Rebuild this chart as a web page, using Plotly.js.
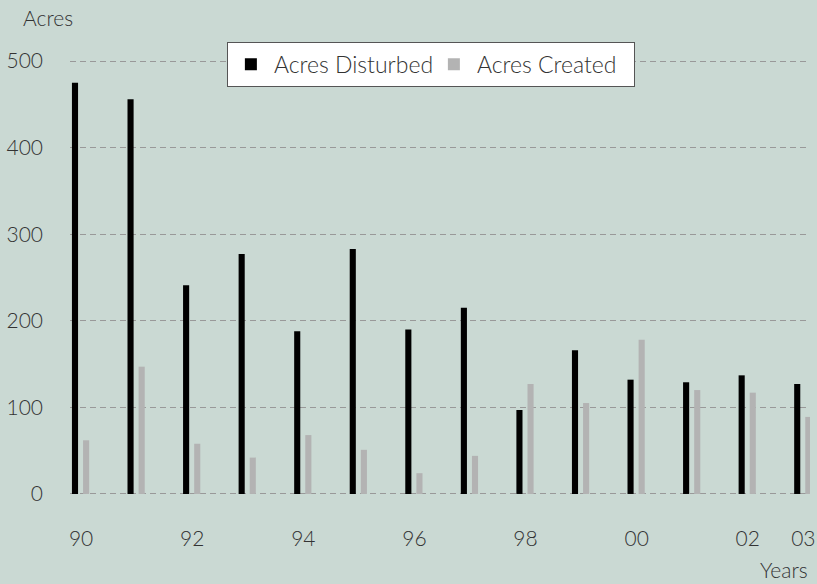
<!DOCTYPE html>
<html>
<head>
<meta charset="utf-8">
<script src="https://cdn.plot.ly/plotly-3.0.1.min.js"></script>
<style>
  html, body { margin: 0; padding: 0; background: #cad9d3; }
  #chart { width: 817px; height: 584px; }
</style>
</head>
<body>
<div id="chart"></div>
<script>
const years = [1990, 1991, 1992, 1993, 1994, 1995, 1996, 1997, 1998, 1999, 2000, 2001, 2002, 2003];
const acresDisturbed = [475, 456, 241, 277, 188, 283, 190, 215, 97, 166, 132, 129, 137, 127];
const acresCreated = [62, 147, 58, 42, 68, 51, 24, 44, 127, 105, 178, 120, 117, 89];
const tickYears = [1990, 1992, 1994, 1996, 1998, 2000, 2002, 2003];
const tickLabels = ["90", "92", "94", "96", "98", "00", "02", "03"];
const yTicks = [0, 100, 200, 300, 400, 500];

const bg = '#cad9d3';
const fontFam = 'Lato, "Open Sans", sans-serif';
const textColor = '#333333';

const data = [
  {
    type: 'bar', name: 'Acres Disturbed', x: years, y: acresDisturbed,
    width: 0.11, offset: -0.165,
    marker: { color: '#000000', line: { width: 0 } }
  },
  {
    type: 'bar', name: 'Acres Created', x: years, y: acresCreated,
    width: 0.11, offset: 0.035,
    marker: { color: '#b3b3b3', line: { width: 0 } }
  }
];

const layout = {
  width: 817, height: 584,
  margin: { l: 70, r: 7, t: 58, b: 87 },
  paper_bgcolor: bg, plot_bgcolor: bg,
  barmode: 'overlay',
  font: { family: fontFam, size: 21, color: textColor, weight: 300 },
  showlegend: true,
  legend: {
    orientation: 'h',
    x: 0.212, xanchor: 'left', y: 1.037, yanchor: 'top',
    bgcolor: '#ffffff', bordercolor: '#555555', borderwidth: 1,
    font: { family: fontFam, size: 23, color: textColor, weight: 300 },
    itemwidth: 36, entrywidth: 152, traceorder: 'normal'
  },
  xaxis: {
    range: [1989.8, 2003.12],
    tickmode: 'array', tickvals: tickYears, ticktext: tickLabels,
    showgrid: false, zeroline: false, showline: false, ticks: '',
    ticklabelstandoff: 27,
    tickfont: { family: fontFam, size: 21, color: textColor, weight: 300 }
  },
  yaxis: {
    range: [-3.5, 503.5],
    tickmode: 'array', tickvals: yTicks,
    showgrid: true, gridcolor: '#999999', gridwidth: 1, griddash: '6px,4px',
    zeroline: false, showline: false, ticks: '',
    ticklabelstandoff: 26,
    tickfont: { family: fontFam, size: 21, color: textColor, weight: 300 }
  },
  annotations: [
    { text: 'Acres', xref: 'paper', yref: 'paper', x: -0.066, y: 1.092,
      xanchor: 'left', yanchor: 'middle', showarrow: false,
      font: { family: fontFam, size: 21, color: textColor, weight: 300 } },
    { text: 'Years', xref: 'paper', yref: 'paper', x: 1.0, y: -0.166,
      xanchor: 'right', yanchor: 'middle', showarrow: false,
      font: { family: fontFam, size: 21, color: textColor, weight: 300 } }
  ]
};

Plotly.newPlot('chart', data, layout, { displayModeBar: false, staticPlot: true });
</script>
</body>
</html>
